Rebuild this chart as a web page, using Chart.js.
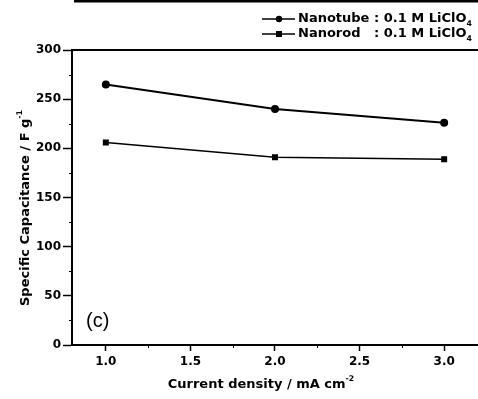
<!DOCTYPE html>
<html>
<head>
<meta charset="utf-8">
<script src="https://cdn.jsdelivr.net/npm/chart.js@4.4.0/dist/chart.umd.min.js"></script>
<style>
  html, body { margin: 0; padding: 0; background: #fff; overflow: hidden; }
  /* a little wider than the window so the plot runs off the right edge like the scan */
  #wrap { width: 483px; height: 399px; }
</style>
</head>
<body>
<div id="wrap"><canvas id="c"></canvas></div>
<script>
// data
const currentDensity = [1.0, 2.0, 3.0];
const nanotubeCap = [265, 240, 226];
const nanorodCap = [206, 191, 189];
const xTicks = [1.0, 1.5, 2.0, 2.5, 3.0];
const xMinor = [1.25, 1.75, 2.25, 2.75];
const yMinor = [25, 75, 125, 175, 225, 275];
const seriesNames = ['Nanotube', 'Nanorod'];

const FONT = '"DejaVu Sans", sans-serif';
const LIGHT = '"Liberation Sans", Arial, sans-serif';

// superscript / subscript helper for canvas text
function drawRich(ctx, parts, x, y, size) {
  let cx = x;
  parts.forEach(p => {
    const s = p.sub || p.sup ? size * 0.6 : size;
    ctx.font = 'bold ' + s + 'px ' + FONT;
    const dy = p.sub ? size * 0.4 : (p.sup ? -size * 0.45 : 0);
    ctx.fillText(p.t, cx, y + dy);
    cx += ctx.measureText(p.t).width;
  });
  return cx;
}
function richWidth(ctx, parts, size) {
  let w = 0;
  parts.forEach(p => {
    const s = p.sub || p.sup ? size * 0.6 : size;
    ctx.font = 'bold ' + s + 'px ' + FONT;
    w += ctx.measureText(p.t).width;
  });
  return w;
}

const decor = {
  id: 'decor',
  afterDraw(chart) {
    const ctx = chart.ctx;
    const a = chart.chartArea;
    const xs = chart.scales.x, ys = chart.scales.y;
    ctx.save();
    ctx.strokeStyle = '#000';
    ctx.fillStyle = '#000';

    // line left over from the panel above
    ctx.lineWidth = 3;
    ctx.beginPath(); ctx.moveTo(74, 1); ctx.lineTo(483, 1); ctx.stroke();

    // top frame
    ctx.lineWidth = 2;
    ctx.beginPath(); ctx.moveTo(a.left, a.top); ctx.lineTo(a.right, a.top); ctx.stroke();

    // minor ticks
    ctx.lineWidth = 1;
    yMinor.forEach(v => {
      const py = Math.round(ys.getPixelForValue(v)) + 0.5;
      ctx.beginPath(); ctx.moveTo(a.left - 3, py); ctx.lineTo(a.left, py); ctx.stroke();
    });
    xMinor.forEach(v => {
      const px = Math.round(xs.getPixelForValue(v)) + 0.5;
      ctx.beginPath(); ctx.moveTo(px, a.bottom); ctx.lineTo(px, a.bottom + 3); ctx.stroke();
    });

    // legend
    const ds = chart.data.datasets;
    const rows = [19, 34];
    ds.forEach((d, i) => {
      const y = rows[i];
      ctx.lineWidth = 1.5;
      ctx.beginPath(); ctx.moveTo(262, y); ctx.lineTo(295, y); ctx.stroke();
      ctx.beginPath();
      if (d.pointStyle === 'rect') ctx.rect(276, y - 3, 6, 6);
      else ctx.arc(279, y, 3.2, 0, Math.PI * 2);
      ctx.fill();
      ctx.textBaseline = 'middle';
      ctx.textAlign = 'left';
      const label = i === 0 ? seriesNames[i] + ' : 0.1 M LiClO' : seriesNames[i] + '   : 0.1 M LiClO';
      drawRich(ctx, [{ t: label }, { t: '4', sub: true }], 298, y, 13);
    });

    // x title
    ctx.textBaseline = 'middle';
    ctx.textAlign = 'left';
    const xt = [{ t: 'Current density / mA cm' }, { t: '-2', sup: true }];
    const xw = richWidth(ctx, xt, 13);
    drawRich(ctx, xt, 261 - xw / 2, 385, 13);

    // y title
    const yt = [{ t: 'Specific Capacitance / F g' }, { t: '-1', sup: true }];
    ctx.translate(26, 208);
    ctx.rotate(-Math.PI / 2);
    const yw = richWidth(ctx, yt, 13);
    drawRich(ctx, yt, -yw / 2, 0, 13);
    ctx.setTransform(1, 0, 0, 1, 0, 0);

    // panel label
    ctx.font = '20px ' + LIGHT;
    ctx.textAlign = 'left';
    ctx.fillText('(c)', 86, 321);
    ctx.restore();
  }
};

new Chart(document.getElementById('c'), {
  type: 'line',
  data: {
    datasets: [
      {
        label: seriesNames[0],
        data: currentDensity.map((x, i) => ({ x, y: nanotubeCap[i] })),
        borderColor: '#000', backgroundColor: '#000', borderWidth: 2,
        pointStyle: 'circle', pointRadius: 3, pointHoverRadius: 3
      },
      {
        label: seriesNames[1],
        data: currentDensity.map((x, i) => ({ x, y: nanorodCap[i] })),
        borderColor: '#000', backgroundColor: '#000', borderWidth: 1.5,
        pointStyle: 'rect', pointRadius: 3.2, pointHoverRadius: 3.2
      }
    ]
  },
  options: {
    responsive: true,
    maintainAspectRatio: false,
    animation: false,
    events: [],
    layout: { padding: { top: 50, right: 0, left: 0, bottom: 0 } },
    plugins: { legend: { display: false }, tooltip: { enabled: false } },
    scales: {
      x: {
        type: 'linear',
        min: 0.8, max: 3.2,
        afterBuildTicks: s => { s.ticks = xTicks.map(v => ({ value: v })); },
        afterFit: s => { s.height = 54; },
        border: { display: true, color: '#000', width: 2 },
        grid: { display: true, drawOnChartArea: false, drawTicks: true, tickLength: 6, color: '#000', tickWidth: 1.5 },
        ticks: {
          color: '#000', padding: 4, maxRotation: 0,
          font: { family: FONT, size: 12, weight: 'bold' },
          callback: v => Number(v).toFixed(1)
        }
      },
      y: {
        min: 0, max: 300,
        ticks: {
          stepSize: 50, color: '#000', padding: 2,
          font: { family: FONT, size: 12, weight: 'bold' }
        },
        afterFit: s => { s.width = 72; },
        border: { display: true, color: '#000', width: 2 },
        grid: { display: true, drawOnChartArea: false, drawTicks: true, tickLength: 9, color: '#000', tickWidth: 1.5 }
      }
    }
  },
  plugins: [decor]
});
</script>
</body>
</html>
